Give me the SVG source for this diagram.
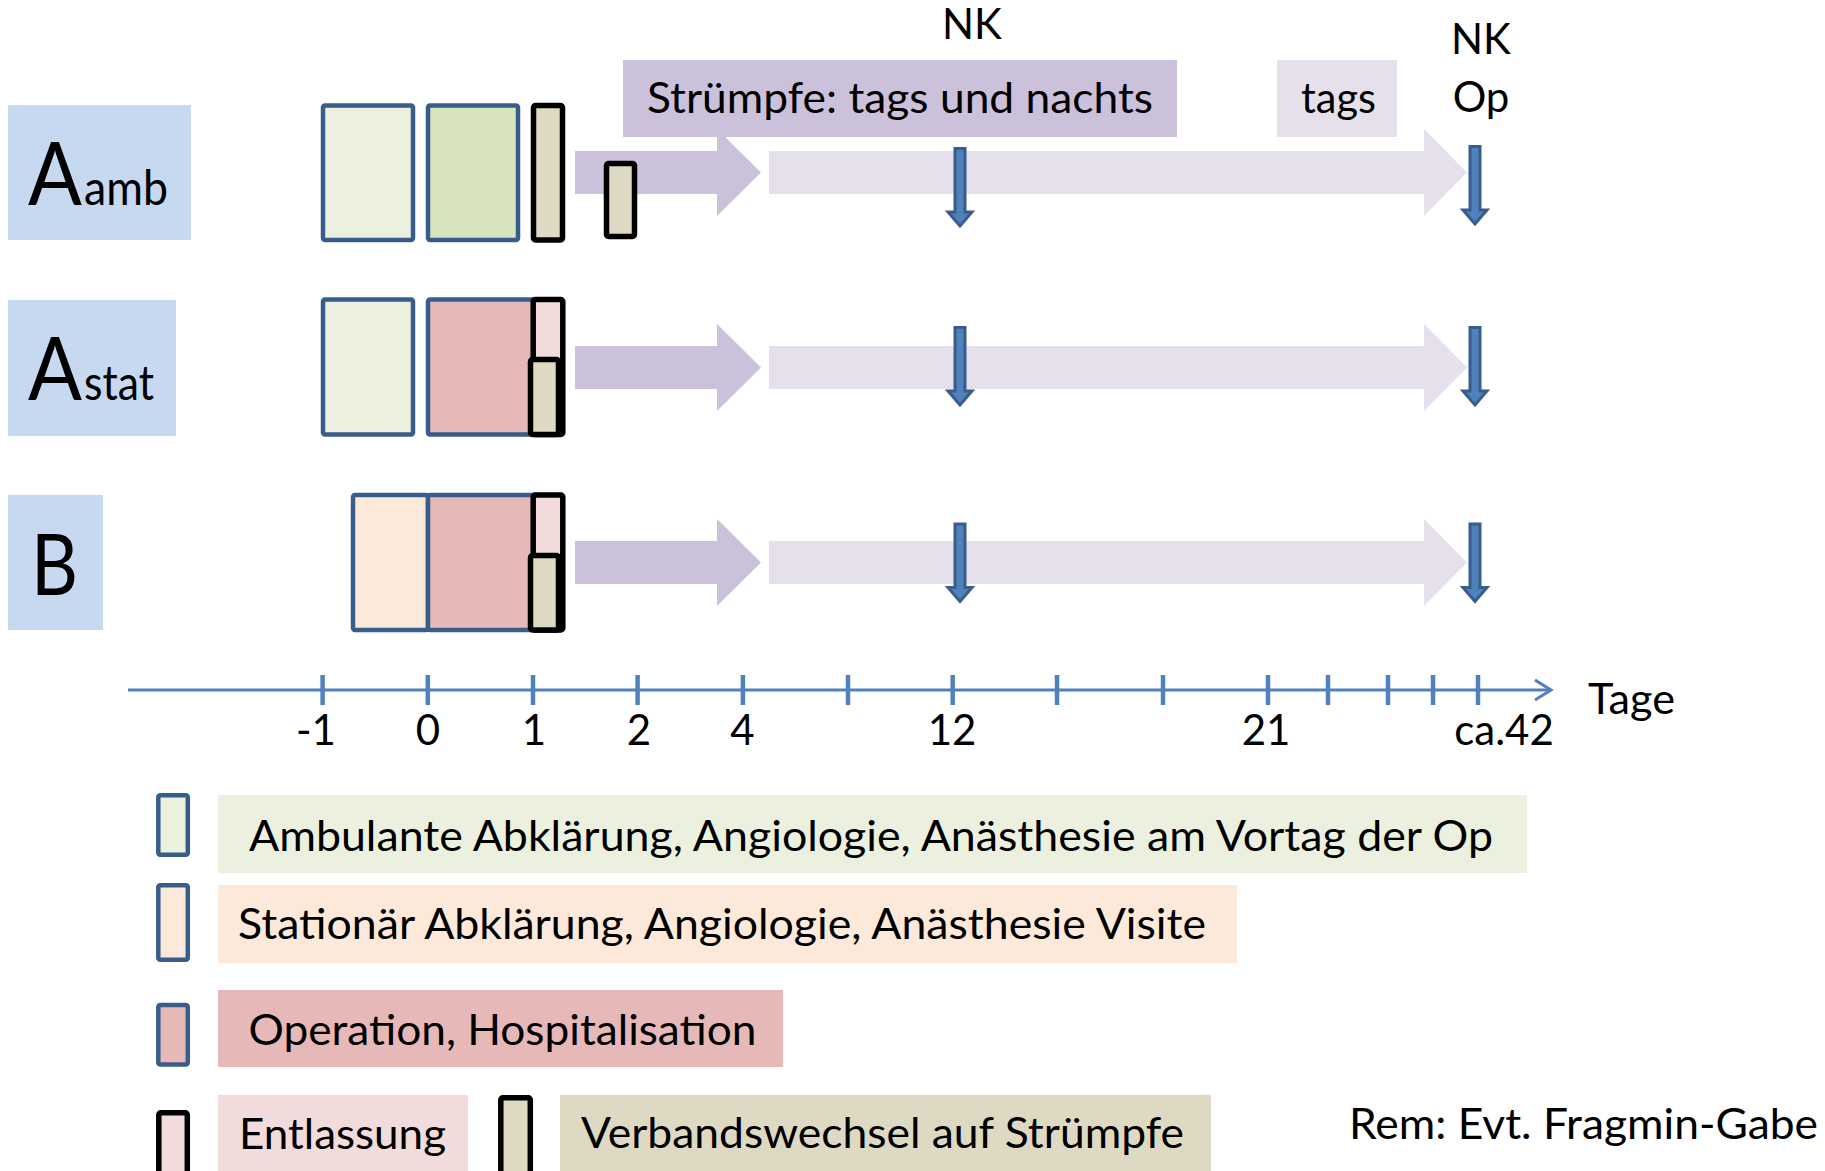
<svg xmlns="http://www.w3.org/2000/svg" xmlns:xlink="http://www.w3.org/1999/xlink" width="1825" height="1171" viewBox="0 0 1825 1171">
<style>
text{font-family:Lato,"Open Sans","Liberation Sans",sans-serif;fill:#000}
.t{font-size:42px}
.lab{fill:#c6d9f0}
.bb{stroke:#385d8a;stroke-width:4.5}
.bk{stroke:#000;stroke-width:5.5}
.amb{fill:#ebf1de}
.grn{fill:#d7e4bd}
.ver{fill:#ddd9c3}
.op{fill:#e6b9b8}
.sta{fill:#fde9d9}
.ent{fill:#f2dcdb}
.pur{fill:#ccc1da}
.lpur{fill:#e5e0ec}
.ax{stroke:#4f81bd;fill:none}
</style>
<defs>
<path id="down" d="M-5,1.5 H5 V65 H12 L0,79 L-12,65 H-5 Z" fill="#4f81bd" stroke="#385d8a" stroke-width="3" stroke-linejoin="miter"/>
</defs>

<!-- row labels -->
<g id="label-aamb">
<rect class="lab" x="8" y="105" width="183" height="135"/>
<text x="28" y="205"><tspan font-size="87" textLength="54" lengthAdjust="spacingAndGlyphs">A</tspan><tspan x="84" font-size="48" textLength="84" lengthAdjust="spacingAndGlyphs">amb</tspan></text>
</g>
<g id="label-astat">
<rect class="lab" x="8" y="300" width="168" height="136"/>
<text x="28" y="400"><tspan font-size="87" textLength="54" lengthAdjust="spacingAndGlyphs">A</tspan><tspan x="84" font-size="48" textLength="70" lengthAdjust="spacingAndGlyphs">stat</tspan></text>
</g>
<g id="label-b">
<rect class="lab" x="8" y="495" width="95" height="135"/>
<text x="31" y="595" font-size="85" textLength="47" lengthAdjust="spacingAndGlyphs">B</text>
</g>

<!-- connectors: fat timeline arrows, down arrows -->
<g id="connectors">
<polygon class="pur" points="575,151 717,151 717,129 761,172.5 717,216 717,194 575,194"/>
<polygon class="lpur" points="769,151 1424,151 1424,129 1467,172.5 1424,216 1424,194 769,194"/>
<polygon class="pur" points="575,346 717,346 717,324 761,367.5 717,411 717,389 575,389"/>
<polygon class="lpur" points="769,346 1424,346 1424,324 1467,367.5 1424,411 1424,389 769,389"/>
<polygon class="pur" points="575,541 717,541 717,519 761,562.5 717,606 717,584 575,584"/>
<polygon class="lpur" points="769,541 1424,541 1424,519 1467,562.5 1424,606 1424,584 769,584"/>
<use xlink:href="#down" href="#down" x="960" y="147"/>
<use xlink:href="#down" href="#down" x="1475" y="145"/>
<use xlink:href="#down" href="#down" x="960" y="326"/>
<use xlink:href="#down" href="#down" x="1475" y="326"/>
<use xlink:href="#down" href="#down" x="960" y="522.5"/>
<use xlink:href="#down" href="#down" x="1475" y="522.5"/>
</g>

<!-- top labels -->
<g id="strumpfe">
<rect class="pur" x="623" y="60" width="554" height="77"/>
<text class="t" x="647" y="113" textLength="506" lengthAdjust="spacingAndGlyphs">Strümpfe: tags und nachts</text>
</g>
<g id="tags">
<rect class="lpur" x="1277" y="60" width="120" height="77"/>
<text class="t" x="1301" y="113" textLength="75" lengthAdjust="spacingAndGlyphs">tags</text>
</g>
<g id="nk12"><text class="t" x="972" y="39" text-anchor="middle">NK</text></g>
<g id="nkop"><text class="t" x="1481" y="54" text-anchor="middle">NK</text><text class="t" x="1481" y="112" text-anchor="middle">Op</text></g>

<!-- row 1 boxes -->
<g id="r1-amb"><rect class="amb bb" x="323" y="105.5" width="90" height="134.5" rx="2"/></g>
<g id="r1-ang"><rect class="grn bb" x="428" y="105.5" width="90" height="134.5" rx="2"/></g>
<g id="r1-ver"><rect class="ver bk" x="533.5" y="105.5" width="29" height="134.5" rx="2"/></g>
<g id="r1-ver2"><rect class="ver bk" x="606.5" y="163.5" width="28" height="73" rx="2"/></g>

<!-- row 2 boxes -->
<g id="r2-amb"><rect class="amb bb" x="323" y="299.5" width="90" height="135" rx="2"/></g>
<g id="r2-op"><rect class="op bb" x="428" y="299.5" width="134" height="135" rx="2"/></g>
<g id="r2-ent"><rect class="ent bk" x="533.2" y="299.5" width="29.6" height="135" rx="2"/></g>
<g id="r2-ver"><rect class="ver bk" x="530.5" y="359.5" width="28" height="75" rx="2"/></g>

<!-- row 3 boxes -->
<g id="r3-sta"><rect class="sta bb" x="353" y="495" width="75" height="135" rx="2"/></g>
<g id="r3-op"><rect class="op bb" x="428" y="495" width="134" height="135" rx="2"/></g>
<g id="r3-ent"><rect class="ent bk" x="533.2" y="495" width="29.6" height="135" rx="2"/></g>
<g id="r3-ver"><rect class="ver bk" x="530.5" y="555.5" width="28" height="74.5" rx="2"/></g>

<!-- axis -->
<g id="axis">
<line class="ax" x1="128" y1="690" x2="1550" y2="690" stroke-width="3"/>
<polyline class="ax" points="1535,680 1551,690 1535,700" stroke-width="3"/>
<g class="ax" stroke-width="4.5">
<line x1="322.6" y1="675" x2="322.6" y2="705"/>
<line x1="427.8" y1="675" x2="427.8" y2="705"/>
<line x1="533" y1="675" x2="533" y2="705"/>
<line x1="637.6" y1="675" x2="637.6" y2="705"/>
<line x1="742.9" y1="675" x2="742.9" y2="705"/>
<line x1="848" y1="675" x2="848" y2="705"/>
<line x1="952.7" y1="675" x2="952.7" y2="705"/>
<line x1="1057" y1="675" x2="1057" y2="705"/>
<line x1="1163" y1="675" x2="1163" y2="705"/>
<line x1="1268" y1="675" x2="1268" y2="705"/>
<line x1="1328" y1="675" x2="1328" y2="705"/>
<line x1="1388" y1="675" x2="1388" y2="705"/>
<line x1="1433" y1="675" x2="1433" y2="705"/>
<line x1="1478" y1="675" x2="1478" y2="705"/>
</g>
<g class="t" text-anchor="middle">
<text x="316" y="745">-1</text>
<text x="428" y="745">0</text>
<text x="534" y="745">1</text>
<text x="639" y="745">2</text>
<text x="742.5" y="745">4</text>
<text x="952" y="745">12</text>
<text x="1266" y="745">21</text>
<text x="1504" y="745">ca.42</text>
</g>
<text class="t" x="1588" y="714" textLength="87" lengthAdjust="spacingAndGlyphs">Tage</text>
</g>

<!-- legend -->
<g id="leg-amb">
<rect class="amb bb" x="158.3" y="795.3" width="29.5" height="59.5" rx="2"/>
<rect class="amb" x="218" y="795" width="1309" height="78"/>
<text class="t" x="249" y="851" textLength="1244" lengthAdjust="spacingAndGlyphs">Ambulante Abklärung, Angiologie, Anästhesie am Vortag der Op</text>
</g>
<g id="leg-sta">
<rect class="sta bb" x="158.3" y="885.3" width="29.5" height="74.5" rx="2"/>
<rect class="sta" x="218" y="885" width="1019" height="78"/>
<text class="t" x="238" y="939" textLength="968" lengthAdjust="spacingAndGlyphs">Stationär Abklärung, Angiologie, Anästhesie Visite</text>
</g>
<g id="leg-op">
<rect class="op bb" x="158.3" y="1005" width="29.5" height="59.5" rx="2"/>
<rect class="op" x="218" y="990" width="565" height="77"/>
<text class="t" x="248.5" y="1044.5" textLength="508" lengthAdjust="spacingAndGlyphs">Operation, Hospitalisation</text>
</g>
<g id="leg-ent">
<rect class="ent bk" x="158.8" y="1112.8" width="28.5" height="70" rx="2"/>
<rect class="ent" x="218" y="1095" width="250" height="80"/>
<text class="t" x="239" y="1149" textLength="207" lengthAdjust="spacingAndGlyphs">Entlassung</text>
</g>
<g id="leg-ver">
<rect class="ver bk" x="500.8" y="1097.8" width="29.5" height="85" rx="2"/>
<rect class="ver" x="560" y="1095" width="651" height="80"/>
<text class="t" x="581" y="1148" textLength="603" lengthAdjust="spacingAndGlyphs">Verbandswechsel auf Strümpfe</text>
</g>
<g id="rem">
<text class="t" x="1349" y="1139" textLength="469" lengthAdjust="spacingAndGlyphs">Rem: Evt. Fragmin-Gabe</text>
</g>
</svg>
